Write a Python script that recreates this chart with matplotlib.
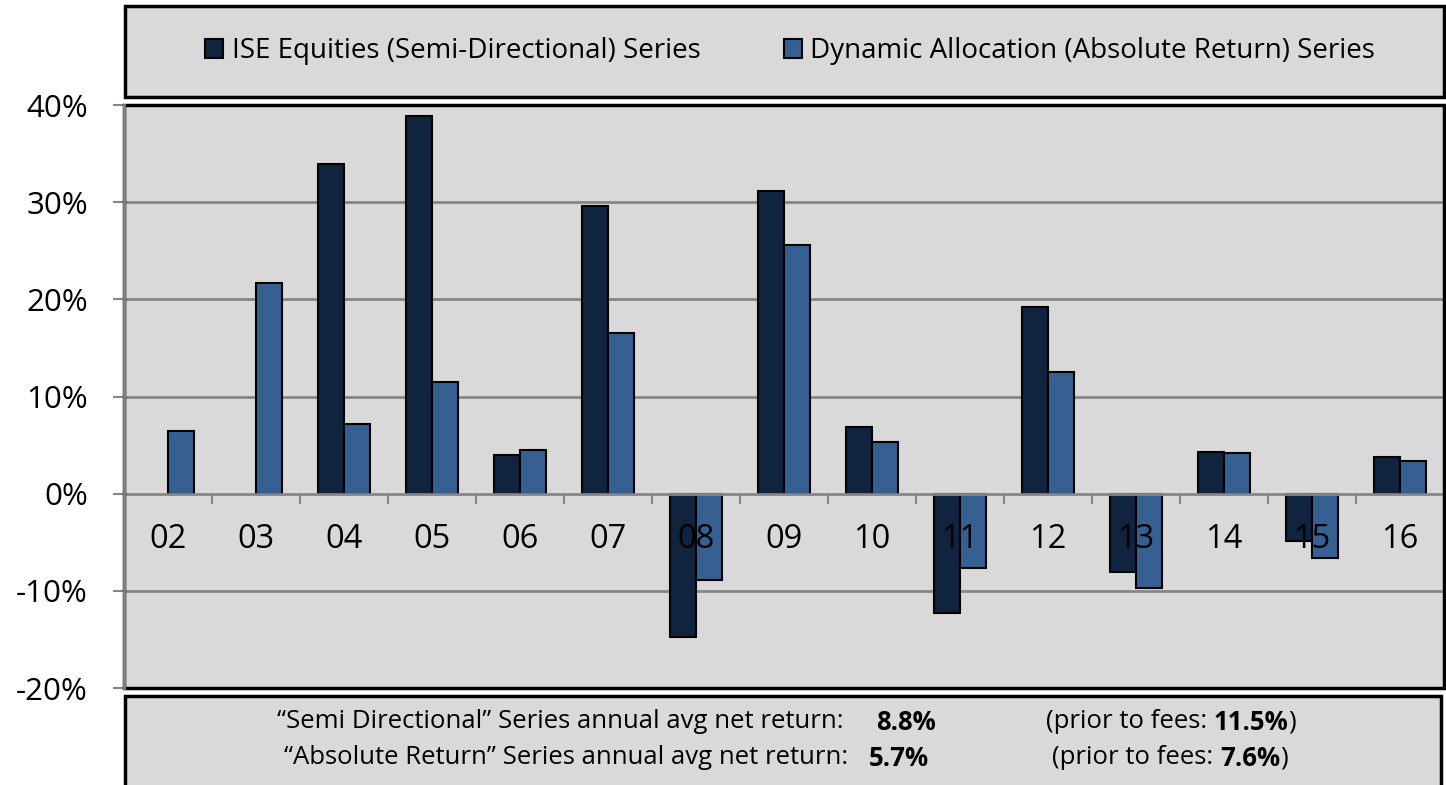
import numpy as np
import matplotlib
matplotlib.use("Agg")
import matplotlib.pyplot as plt
from matplotlib.patches import Rectangle

# ---------------- data ----------------
years = ["02", "03", "04", "05", "06", "07", "08", "09", "10", "11", "12", "13", "14", "15", "16"]
ise_equities = [np.nan, np.nan, 33.9, 38.9, 4.0, 29.6, -14.8, 31.1, 6.9, -12.3, 19.2, -8.1, 4.3, -4.9, 3.8]
dynamic_alloc = [6.5, 21.7, 7.2, 11.5, 4.5, 16.5, -8.9, 25.6, 5.3, -7.7, 12.5, -9.7, 4.2, -6.6, 3.4]
series_names = ["ISE Equities (Semi-Directional) Series", "Dynamic Allocation (Absolute Return) Series"]
y_ticks = [-20, -10, 0, 10, 20, 30, 40]

summary_rows = [
    ("\u201cSemi Directional\u201d Series annual avg net return:", "8.8%", "11.5%"),
    ("\u201cAbsolute Return\u201d Series annual avg net return:", "5.7%", "7.6%"),
]

# ---------------- style ----------------
plt.rcParams["font.family"] = ["Open Sans", "DejaVu Sans"]
W, H = 1446, 785
bg = "#D9D9D9"
grid_col = "#868686"
c_ise = "#10243F"
c_da = "#366092"

fig = plt.figure(figsize=(W / 100, H / 100), dpi=100)
fig.patch.set_facecolor("white")

ax = fig.add_axes([124 / W, 1 - 688 / H, 1320 / W, 583 / H])
ax.set_facecolor(bg)

x = np.arange(len(years))
w = 0.295
b1 = ax.bar(x - w / 2, ise_equities, w, color=c_ise, edgecolor="black", linewidth=1.5, zorder=3)
b2 = ax.bar(x + w / 2, dynamic_alloc, w, color=c_da, edgecolor="black", linewidth=1.5, zorder=3)

ax.set_xlim(-0.5, len(years) - 0.5)
ax.set_ylim(-20, 40)

# gridlines behind the bars
for t in y_ticks:
    if t not in (-20, 0, 40):
        ax.axhline(t, color=grid_col, lw=2, zorder=1)

# spines
for s in ["top", "right"]:
    ax.spines[s].set_visible(False)
ax.spines["bottom"].set_position(("data", 0))
ax.spines["bottom"].set_color(grid_col)
ax.spines["bottom"].set_linewidth(2)
ax.spines["bottom"].set_zorder(4)
ax.spines["left"].set_color(grid_col)
ax.spines["left"].set_linewidth(2)
ax.spines["left"].set_zorder(5)
ax.add_patch(Rectangle((0, 0), 1, 1, transform=ax.transAxes, fill=False,
                       edgecolor="black", linewidth=2.5, zorder=4.5, clip_on=False))

# y axis
ax.set_yticks(y_ticks)
ax.set_yticklabels([f"{t}%" for t in y_ticks])
ax.tick_params(axis="y", direction="out", length=8, width=1.5, color=grid_col,
               pad=18, labelsize=22.5)

# x axis: ticks between categories, labels drawn over bars
ax.set_xticks([])
ax.set_xticks(x[:-1] + 0.5, minor=True)
ax.tick_params(axis="x", which="minor", direction="out", length=7, width=1.5, color=grid_col)
for i, lab in enumerate(years):
    ax.annotate(lab, (i, 0), xytext=(0, -33), textcoords="offset points",
                ha="center", va="center", fontsize=23.5, zorder=6)

# legend box at top
fig.patches.append(Rectangle((125 / W, 1 - 97 / H), 1319 / W, 91 / H, transform=fig.transFigure,
                             facecolor=bg, edgecolor="black", linewidth=2.5))
fig.legend([b1, b2], series_names, loc="center", bbox_to_anchor=(790 / W, 1 - 51 / H),
           ncol=2, frameon=False, fontsize=20, handlelength=0.65, handleheight=0.65,
           handletextpad=0.3, columnspacing=3.0, borderpad=0)

# summary box at bottom
fig.patches.append(Rectangle((125 / W, -0.02), 1316 / W, 1 - 696 / H + 0.02,
                             transform=fig.transFigure, facecolor=bg, edgecolor="black",
                             linewidth=2.5))
row_y = [1 - 722 / H, 1 - 758 / H]
label_x = [277, 284]
val_x = [876, 869]
fee_x = [1046, 1052]
fs = 18.5
renderer = fig.canvas.get_renderer()
for (label, net, gross), yy, lx, vx, fx in zip(summary_rows, row_y, label_x, val_x, fee_x):
    fig.text(lx / W, yy, label, fontsize=fs, va="center")
    fig.text(vx / W, yy, net, fontsize=fs, va="center", fontweight="bold")
    # chain "(prior to fees: " + bold value + ")"
    xpos = fx
    for part, weight in [("(prior to fees: ", "normal"), (gross, "bold"), (")", "normal")]:
        t = fig.text(xpos / W, yy, part, fontsize=fs, va="center", fontweight=weight)
        xpos = t.get_window_extent(renderer).x1

fig.savefig("out.png", dpi=100)
